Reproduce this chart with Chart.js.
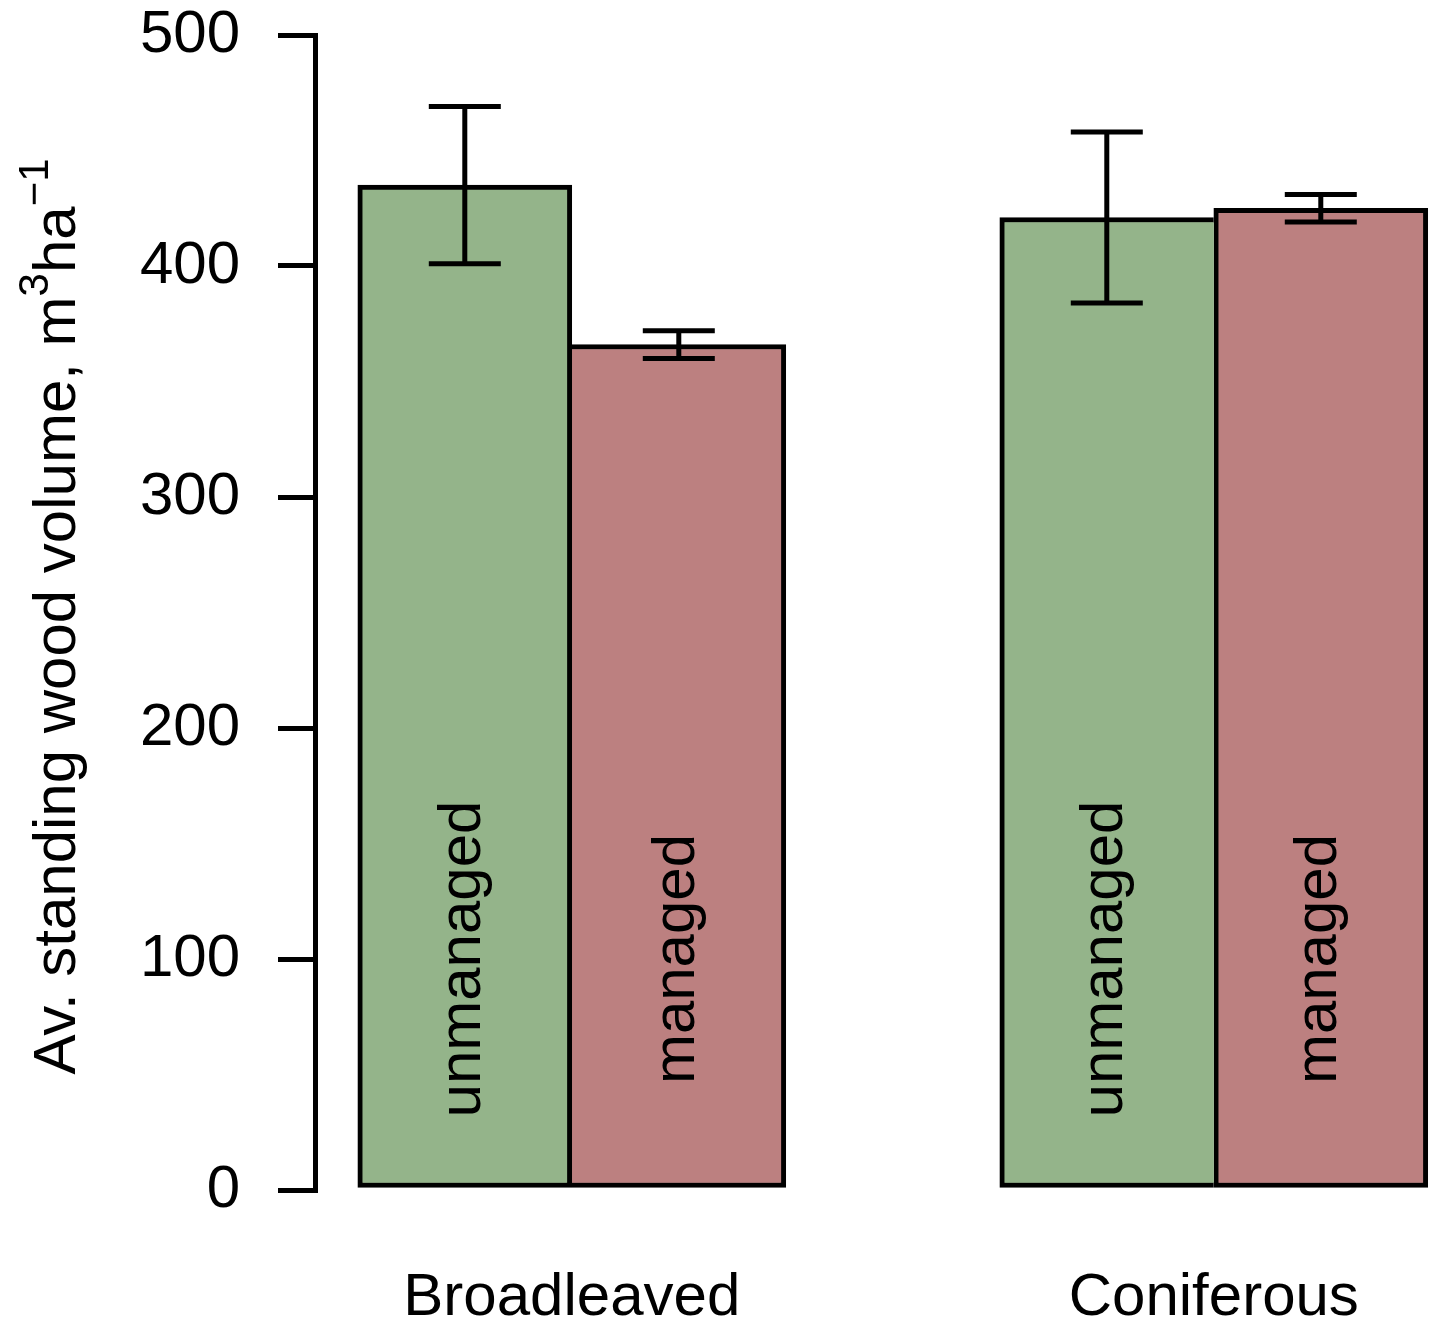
<!DOCTYPE html>
<html>
<head>
<meta charset="utf-8">
<script src="https://cdn.jsdelivr.net/npm/chart.js@4.4.1/dist/chart.umd.min.js"></script>
<style>
  html, body { margin: 0; padding: 0; background: #fff; }
  #wrap { width: 1431px; height: 1326px; }
</style>
</head>
<body>
<div id="wrap"><canvas id="volumeChart"></canvas></div>
<script>
const groups = ["Broadleaved", "Coniferous"];
const seriesNames = ["unmanaged", "managed"];
const unmanagedMean = [435, 421];
const unmanagedLow = [401, 384];
const unmanagedHigh = [469, 458];
const managedMean = [366, 425];
const managedLow = [360, 419];
const managedHigh = [372, 431];
const yTicks = [0, 100, 200, 300, 400, 500];

const FONT = '"Liberation Sans", Arial, Helvetica, sans-serif';
const LW = 5;

// group i is centred at 2 + 3i, its two bars sit at -0.5 / +0.5 (R barplot, space = c(0, 1))
const groupCenter = (i) => 2 + 3 * i;

const overlays = {
  id: "overlays",
  afterDatasetsDraw(chart) {
    const { ctx, scales: { y } } = chart;
    ctx.save();
    ctx.strokeStyle = "#000";
    ctx.lineWidth = LW;
    ctx.lineCap = "butt";
    chart.data.datasets.forEach((ds, di) => {
      chart.getDatasetMeta(di).data.forEach((bar, i) => {
        const lo = y.getPixelForValue(ds.errLow[i]);
        const hi = y.getPixelForValue(ds.errHigh[i]);
        const cx = bar.x;
        ctx.beginPath();
        ctx.moveTo(cx, lo);
        ctx.lineTo(cx, hi);
        ctx.moveTo(cx - 36, lo);
        ctx.lineTo(cx + 36, lo);
        ctx.moveTo(cx - 36, hi);
        ctx.lineTo(cx + 36, hi);
        ctx.stroke();

        // series name written up the bar
        ctx.save();
        ctx.translate(cx, y.getPixelForValue(100));
        ctx.rotate(-Math.PI / 2);
        ctx.fillStyle = "#000";
        ctx.font = `60px ${FONT}`;
        ctx.textAlign = "center";
        ctx.textBaseline = "alphabetic";
        ctx.fillText(ds.label, 0, 15);
        ctx.restore();
      });
    });
    ctx.restore();
  },
  afterDraw(chart) {
    const { ctx, chartArea } = chart;
    const parts = [
      { t: "Av. standing wood volume, m", size: 60, rise: 0 },
      { t: "3", size: 42, rise: 27 },
      { t: "ha", size: 60, rise: 0 },
      { t: "\u22121", size: 42, rise: 27 },
    ];
    ctx.save();
    let total = 0;
    parts.forEach((p) => {
      ctx.font = `${p.size}px ${FONT}`;
      p.w = ctx.measureText(p.t).width;
      total += p.w;
    });
    ctx.translate(75, (chartArea.top + chartArea.bottom) / 2 + 4);
    ctx.rotate(-Math.PI / 2);
    ctx.fillStyle = "#000";
    ctx.textBaseline = "alphabetic";
    ctx.textAlign = "left";
    let pos = -total / 2;
    parts.forEach((p) => {
      ctx.font = `${p.size}px ${FONT}`;
      ctx.fillText(p.t, pos, -p.rise);
      pos += p.w;
    });
    ctx.restore();
  },
};

new Chart(document.getElementById("volumeChart"), {
  type: "bar",
  data: {
    datasets: [
      {
        label: seriesNames[0],
        data: unmanagedMean.map((v, i) => ({ x: groupCenter(i) - 0.5, y: v })),
        errLow: unmanagedLow,
        errHigh: unmanagedHigh,
        backgroundColor: "#94b48a",
        borderColor: "#000",
        borderWidth: (c) => ({
          top: LW,
          bottom: LW,
          left: LW,
          right: unmanagedMean[c.dataIndex] >= managedMean[c.dataIndex] ? LW : 0,
        }),
      },
      {
        label: seriesNames[1],
        data: managedMean.map((v, i) => ({ x: groupCenter(i) + 0.5, y: v })),
        errLow: managedLow,
        errHigh: managedHigh,
        backgroundColor: "#bc8080",
        borderColor: "#000",
        borderWidth: (c) => ({
          top: LW,
          bottom: LW,
          right: LW,
          left: managedMean[c.dataIndex] > unmanagedMean[c.dataIndex] ? LW : 0,
        }),
      },
    ],
  },
  options: {
    responsive: true,
    maintainAspectRatio: false,
    animation: false,
    grouped: false,
    barPercentage: 1,
    categoryPercentage: 1,
    borderSkipped: false,
    layout: { padding: 0 },
    plugins: {
      legend: { display: false },
      tooltip: { enabled: false },
    },
    scales: {
      x: {
        type: "linear",
        min: 0.8,
        max: 6.015,
        offset: false,
        afterBuildTicks: (scale) => {
          scale.ticks = groups.map((g, i) => ({ value: groupCenter(i) }));
        },
        afterFit: (scale) => {
          scale.height = 136;
          scale.paddingLeft = 0;
          scale.paddingRight = 0;
        },
        ticks: {
          autoSkip: false,
          maxRotation: 0,
          padding: 72,
          color: "#000",
          font: { family: FONT, size: 60 },
          callback: (v, i) => groups[i],
        },
        grid: { display: false, drawTicks: false },
        border: { display: false },
      },
      y: {
        min: 0,
        max: 500,
        afterBuildTicks: (scale) => {
          scale.ticks = yTicks.map((v) => ({ value: v }));
        },
        afterFit: (scale) => {
          scale.width = 315;
          scale.paddingTop = 35;
          scale.paddingBottom = 0;
        },
        ticks: {
          padding: 38,
          color: "#000",
          font: { family: FONT, size: 60, lineHeight: 1 },
        },
        grid: {
          drawOnChartArea: false,
          drawTicks: true,
          tickLength: 37,
          tickWidth: LW,
          tickColor: "#000",
          color: "#000",
          lineWidth: LW,
        },
        border: { display: true, color: "#000", width: LW },
      },
    },
  },
  plugins: [overlays],
});
</script>
</body>
</html>
